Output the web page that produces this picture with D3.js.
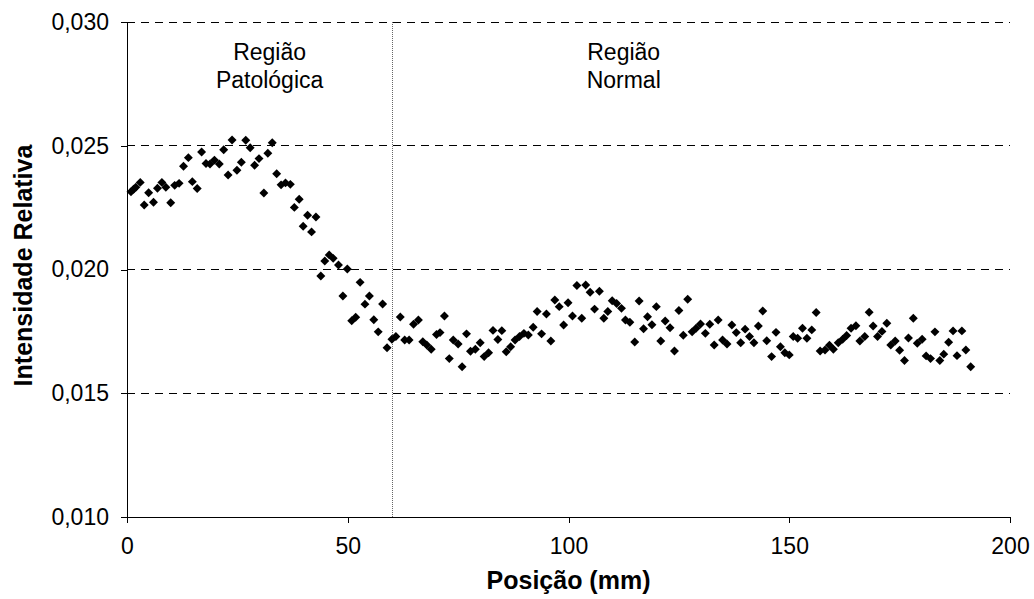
<!DOCTYPE html>
<html><head><meta charset="utf-8">
<script src="https://cdn.jsdelivr.net/npm/d3@7"></script>
<style>body{margin:0;background:#fff;} svg{display:block;font-family:Arial,"Liberation Sans",sans-serif;}</style>
</head><body>
<script>
const positions = [0.9,1.5,2,3,3.9,4.9,6,6.9,7.9,8.8,9.9,10.8,11.8,12.8,13.9,14.8,15.9,16.9,17.9,18.8,19.8,20.9,21.9,22.9,23.8,24.9,25.9,26.9,27.9,28.9,29.9,31,31.9,32.9,33.9,34.9,35.9,37,37.9,39,39.9,40.9,41.8,
42.8,43.9,44.8,45.8,46.7,47.9,48.9,49.9,50.9,51.8,52.8,53.9,54.9,55.9,56.9,57.9,58.9,60,60.9,61.9,62.9,63.9,64.9,66,67,67.9,68.9,70.1,
70.9,71.9,73,73.9,75,75.9,76.9,77.8,78.9,80,80.9,81.9,82.9,84,84.9,85.9,86.9,87.9,88.9,89.9,90.9,92,92.9,93.9,95,96,96.9,97.9,98.9,99.9,100.9,101.9,103,103.9,104.9,105.9,107,108,108.9,109.9,110.9,
112,112.9,113.9,115,116,117,117.9,118.9,119.9,120.9,121.9,123,124,125,126,127,128,128.9,129.9,131,132,133,133.9,134.9,135.9,137,138,139,140,141,142,143,144,144.9,146,147,148,149,150,150.9,151.9,153,154,
155.1,156.1,157,158.1,159.1,160,161.1,162.1,163,164,165.1,166,167.1,168.1,169,170,171,172.1,173,174,175,176.1,177,178.1,179,180.1,181,182,183,184.1,185,186.1,187.1,188,189.1,190,191.1];
const intensity = [0.02314,0.02324,0.02332,0.02352,0.02261,0.02310,0.02272,0.02328,0.02352,0.02332,0.0227,0.0234,0.02348,0.02417,0.02452,0.02355,0.02327,0.02475,0.02428,0.02426,0.02442,0.02426,0.02484,0.02382,0.02523,0.02401,0.02433,0.02522,0.02492,0.02421,0.02448,0.02309,0.0247,0.02512,0.02387,0.02342,0.0235,0.02344,0.02251,0.02284,0.02175,0.02219,0.02152,
0.02212,0.01974,0.02034,0.02059,0.02045,0.02018,0.01893,0.02002,0.01793,0.01807,0.01948,0.0186,0.01893,0.01797,0.01748,0.01861,0.01684,0.01718,0.01729,0.01808,0.01715,0.01715,0.01779,0.01796,0.01708,0.01695,0.01678,0.01737,
0.01745,0.01812,0.0164,0.01715,0.01699,0.01607,0.0174,0.0167,0.01678,0.01704,0.01648,0.01664,0.01754,0.01717,0.01753,0.01668,0.01688,0.01715,0.01729,0.01742,0.01735,0.01767,0.0183,0.0174,0.0182,0.01711,0.01877,0.0185,0.01776,0.01866,0.01812,0.01935,0.01803,0.01937,0.01908,0.0184,0.01912,0.01803,0.0183,0.01874,0.01863,
0.01843,0.01796,0.01787,0.01707,0.01873,0.01761,0.01809,0.01777,0.0185,0.01711,0.01792,0.01765,0.01671,0.01834,0.01734,0.0188,0.01748,0.01763,0.0178,0.01742,0.01779,0.01695,0.01796,0.01715,0.01699,0.01776,0.01745,0.01704,0.01759,0.01729,0.01704,0.01772,0.01832,0.01712,0.01648,0.01746,0.01688,0.01664,0.01655,0.01729,0.01722,0.01763,0.01722,
0.01756,0.01826,0.01671,0.01675,0.01694,0.01678,0.01704,0.01718,0.01733,0.01763,0.01773,0.01711,0.01729,0.01827,0.01772,0.01729,0.0175,0.01783,0.01695,0.01711,0.01674,0.01632,0.01723,0.01803,0.01702,0.01718,0.01651,0.0164,0.01748,0.01632,0.01658,0.01706,0.01752,0.01652,0.01752,0.01675,0.01607];
const xTicks = [0,50,100,150,200];
const yTicks = [0.010,0.015,0.020,0.025,0.030];
const regionLabels = [["Região","Patológica"],["Região","Normal"]];
const regionCenters = [32.3,112.5];
const boundary = [60];

const W=1034,H=599, m={l:127,r:24,t:22,b:82};
const FS=23, TS=25;
const svg=d3.select("body").append("svg").attr("width",W).attr("height",H);
const x=d3.scaleLinear().domain([0,200]).range([m.l,W-m.r]);
const y=d3.scaleLinear().domain([0.010,0.030]).range([H-m.b,m.t]);
const fmt=v=>d3.format(".3f")(v).replace(".",",");

// grid
svg.append("g").selectAll("line").data(yTicks.filter(v=>v>0.010)).join("line")
  .attr("x1",x(0)).attr("x2",x(200)).attr("y1",d=>y(d)).attr("y2",d=>y(d))
  .attr("stroke","#000").attr("stroke-width",1).attr("stroke-dasharray","8,6").attr("shape-rendering","crispEdges");
// boundary
svg.append("g").selectAll("line").data(boundary).join("line")
  .attr("x1",d=>Math.round(x(d))+0.5).attr("x2",d=>Math.round(x(d))+0.5).attr("y1",y(0.030)).attr("y2",y(0.010))
  .attr("stroke","#666").attr("stroke-width",1).attr("stroke-dasharray","1,1");

const ya=svg.append("g").attr("transform",`translate(${m.l},0)`).call(d3.axisLeft(y).tickValues(yTicks).tickFormat(fmt).tickSize(6).tickPadding(12));
const xa=svg.append("g").attr("transform",`translate(0,${H-m.b})`).call(d3.axisBottom(x).tickValues(xTicks).tickSize(6).tickPadding(15));
[ya,xa].forEach(a=>{a.selectAll("text").attr("font-size",FS).attr("font-family","Arial,'Liberation Sans',sans-serif").attr("fill","#000");
  a.selectAll("line,path").attr("stroke","#000").attr("shape-rendering","crispEdges");});

const sym=d3.symbol().type(d3.symbolSquare).size(40);
svg.append("g").selectAll("path").data(positions.map((p,i)=>[p,intensity[i]])).join("path")
  .attr("transform",d=>`translate(${x(d[0])},${y(d[1])}) rotate(45)`).attr("d",sym).attr("fill","#000");

regionLabels.forEach((lines,i)=>{
  const t=svg.append("text").attr("text-anchor","middle").attr("font-size",FS).attr("fill","#000");
  lines.forEach((s,j)=>t.append("tspan").attr("x",x(regionCenters[i])).attr("y",60+j*28).text(s));
});

svg.append("text").attr("x",(m.l+W-m.r)/2).attr("y",589).attr("text-anchor","middle").attr("font-size",TS).attr("font-weight","bold").text("Posição (mm)");
svg.append("text").attr("transform",`translate(32,${(m.t+H-m.b)/2-4}) rotate(-90)`).attr("text-anchor","middle").attr("font-size",TS).attr("font-weight","bold").text("Intensidade Relativa");
</script>
</body></html>
